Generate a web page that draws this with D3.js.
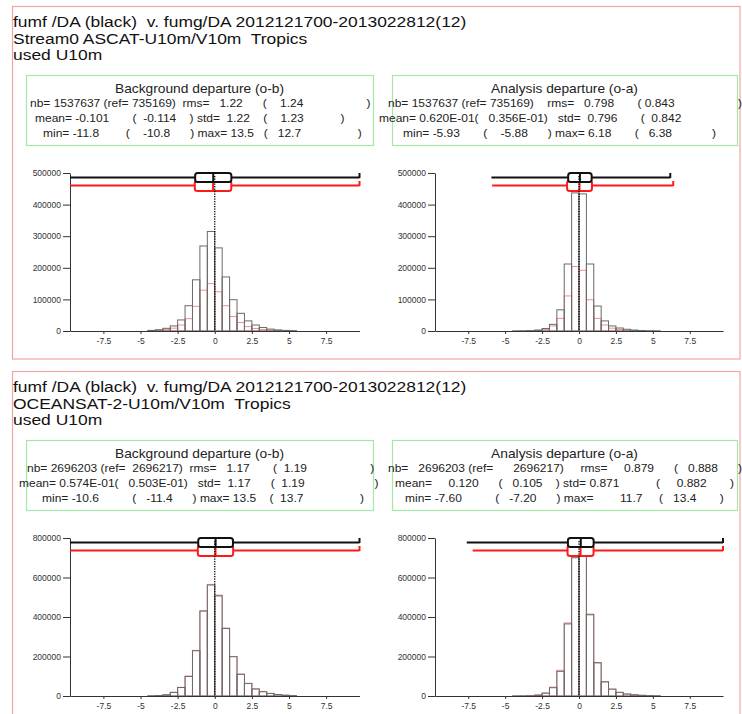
<!DOCTYPE html>
<html>
<head>
<meta charset="utf-8">
<script src="https://cdn.jsdelivr.net/npm/d3@7/dist/d3.min.js"></script>
<style>
  html, body { margin: 0; padding: 0; background: #fff; }
  text { font-family: "Liberation Sans", Arial, Helvetica, sans-serif; }
</style>
</head>
<body>
<script>
// ---------------- DATA ----------------
const titleLine1 = "fumf /DA (black)  v. fumg/DA 2012121700-2013022812(12)";
const panelNames = ["Stream0 ASCAT-U10m/V10m  Tropics", "OCEANSAT-2-U10m/V10m  Tropics"];
const titleLine3 = "used U10m";
const boxTitles = ["Background departure (o-b)", "Analysis departure (o-a)"];

// histogram bins: lower edges, width 0.5
const binEdges = [-4.5, -4, -3.5, -3, -2.5, -2, -1.5, -1, -0.5, 0, 0.5, 1, 1.5, 2, 2.5, 3, 3.5, 4, 4.5, 5];
const binWidth = 0.5;

const ascatBgExp = [2000, 4000, 8500, 16000, 35000, 80000, 162000, 269000, 315000, 263000, 171000, 99000, 56000, 32000, 19000, 11000, 6000, 3500, 2000, 1000];
const ascatBgRef = [1000, 2000, 4500, 9000, 19000, 39000, 78000, 129000, 150000, 124000, 80000, 46000, 27000, 14000, 8000, 4500, 2500, 1200, 600, 300];
const ascatAnExp = [200, 500, 1200, 3000, 8000, 21000, 67000, 212000, 437000, 434000, 212000, 79000, 32000, 16000, 9500, 5500, 3000, 1500, 700, 300];
const ascatAnRef = [100, 300, 800, 2000, 5000, 16000, 40000, 111000, 204000, 192000, 99000, 40000, 19000, 9000, 5000, 2800, 1500, 800, 400, 150];
const oceanBgExp = [1000, 2500, 6000, 18000, 43000, 99000, 229000, 430000, 562000, 510000, 342000, 199000, 110000, 64000, 36000, 22000, 13000, 7500, 4000, 2000];
const oceanBgRef = [1100, 2600, 6500, 19000, 44000, 101000, 231000, 432000, 565000, 505000, 344000, 200000, 111000, 63000, 35000, 21500, 12500, 7200, 3900, 1900];
const oceanAnExp = [300, 700, 1500, 4500, 14000, 42000, 125000, 365000, 700000, 725000, 414000, 169000, 72000, 35000, 18500, 10000, 6000, 3500, 2000, 1000];
const oceanAnRef = [300, 800, 1700, 5000, 15500, 45000, 130000, 370000, 705000, 715000, 410000, 167000, 71000, 34000, 18000, 9800, 5800, 3400, 1900, 950];

// statistics [exp (black), ref (red)]
const ascatBgMean = [-0.101, -0.114], ascatBgStd = [1.22, 1.23], ascatBgMin = [-11.8, -10.8], ascatBgMax = [13.5, 12.7];
const ascatAnMean = [0.0620, 0.0356], ascatAnStd = [0.796, 0.842], ascatAnMin = [-5.93, -5.88], ascatAnMax = [6.18, 6.38];
const oceanBgMean = [0.0574, 0.0503], oceanBgStd = [1.17, 1.19], oceanBgMin = [-10.6, -11.4], oceanBgMax = [13.5, 13.7];
const oceanAnMean = [0.120, 0.105], oceanAnStd = [0.871, 0.882], oceanAnMin = [-7.60, -7.20], oceanAnMax = [11.7, 13.4];

// statistics text rows (numbers between strings = count of blanks)
const ascatBgRows = [
  ["nb=",1,"1537637",1,"(ref=",1,"735169)",2,"rms=",3,"1.22",6,"(",4,"1.24",19,")"],
  ["mean=",1,"-0.101",7,"(",2,"-0.114",4,")",1,"std=",2,"1.22",4,"(",4,"1.23",11,")"],
  ["min=",1,"-11.8",8,"(",4,"-10.8",6,")",1,"max=",1,"13.5",3,"(",3,"12.7",17,")"]
];
const ascatAnRows = [
  ["nb=",1,"1537637",1,"(ref=",1,"735169)",4,"rms=",3,"0.798",7,"(",1,"0.843",19,")"],
  ["mean=",1,"0.620E-01(",3,"0.356E-01)",3,"std=",2,"0.796",7,"(",2,"0.842"],
  ["min=",1,"-5.93",7,"(",4,"-5.88",6,")",1,"max=",1,"6.18",7,"(",3,"6.38",12,")"]
];
const oceanBgRows = [
  ["nb=",1,"2696203",1,"(ref=",2,"2696217)",2,"rms=",3,"1.17",7,"(",2,"1.19",19,")"],
  ["mean=",1,"0.574E-01(",3,"0.503E-01)",3,"std=",2,"1.17",6,"(",2,"1.19",21,")"],
  ["min=",1,"-10.6",10,"(",3,"-11.4",6,")",1,"max=",1,"13.5",4,"(",2,"13.7",17,")"]
];
const oceanAnRows = [
  ["nb=",3,"2696203",1,"(ref=",6,"2696217)",5,"rms=",5,"0.879",6,"(",3,"0.888",6,")"],
  ["mean=",5,"0.120",6,"(",3,"0.105",4,")",1,"std=",1,"0.871",11,"(",5,"0.882",7,")"],
  ["min=",1,"-7.60",10,"(",3,"-7.20",6,")",1,"max=",8,"11.7",5,"(",3,"13.4",7,")"]
];

const xTicks = [-7.5, -5, -2.5, 0, 2.5, 5, 7.5];
const yTicksAscat = [0, 100000, 200000, 300000, 400000, 500000];
const yTicksOcean = [0, 200000, 400000, 600000, 800000];

// ---------------- LAYOUT ----------------
const svg = d3.select("body").append("svg").attr("width", 742).attr("height", 714);

const panels = [
  { off: 0, name: panelNames[0], yMax: 500000, yTicks: yTicksAscat,
    subs: [
      { exp: ascatBgExp, ref: ascatBgRef, mean: ascatBgMean, std: ascatBgStd, min: ascatBgMin, max: ascatBgMax, rows: ascatBgRows, title: boxTitles[0], rowDx: [4, 9, 17] },
      { exp: ascatAnExp, ref: ascatAnRef, mean: ascatAnMean, std: ascatAnStd, min: ascatAnMin, max: ascatAnMax, rows: ascatAnRows, title: boxTitles[1], rowDx: [-4, -13, 11] }
    ] },
  { off: 365, name: panelNames[1], yMax: 800000, yTicks: yTicksOcean,
    subs: [
      { exp: oceanBgExp, ref: oceanBgRef, mean: oceanBgMean, std: oceanBgStd, min: oceanBgMin, max: oceanBgMax, rows: oceanBgRows, title: boxTitles[0], rowDx: [1, -7, 16] },
      { exp: oceanAnExp, ref: oceanAnRef, mean: oceanAnMean, std: oceanAnStd, min: oceanAnMin, max: oceanAnMax, rows: oceanAnRows, title: boxTitles[1], rowDx: [-4, 3, 13] }
    ] }
];

const subGeom = [
  { boxX0: 26, boxX1: 373, plotX0: 70, plotX1: 359.5 },
  { boxX0: 392, boxX1: 737, plotX0: 435, plotX1: 723 }
];

function rowText(parts) {
  return parts.map(p => typeof p === "number" ? " ".repeat(p) : p).join("");
}
// stretched text (the original rendering is wider than tall)
function sText(g, x, y, size, sx, str, anchor) {
  return g.append("text")
    .attr("transform", `translate(${x},${y}) scale(${sx},1)`)
    .attr("font-size", size)
    .attr("text-anchor", anchor || "start")
    .attr("xml:space", "preserve").style("white-space", "pre")
    .text(str);
}

panels.forEach(P => {
  const g = svg.append("g").attr("transform", `translate(0,${P.off})`);
  // pink frame
  g.append("rect").attr("x", 12.5).attr("y", 6.5).attr("width", 727.5)
    .attr("height", P.off === 0 ? 352.5 : 400)
    .attr("fill", "none").attr("stroke", "#f5a3a3").attr("stroke-width", 1.2);
  // titles
  [titleLine1, P.name, titleLine3].forEach((t, i) => {
    sText(g, 13, [27, 43.6, 60.2][i], 14.6, 1.195, t).attr("fill", "#111");
  });

  P.subs.forEach((S, si) => {
    const G = subGeom[si];
    // green stats box
    g.append("rect").attr("x", G.boxX0 + 0.5).attr("y", 75.5)
      .attr("width", G.boxX1 - G.boxX0).attr("height", 70)
      .attr("fill", "none").attr("stroke", "#a6e6a6").attr("stroke-width", 1.2);
    sText(g, (G.boxX0 + G.boxX1) / 2, 93, 13, 1.06, S.title, "middle").attr("fill", "#222");
    S.rows.forEach((r, ri) => {
      sText(g, G.boxX0 + S.rowDx[ri], [106.6, 121.6, 136.6][ri], 11.5, 1.043, rowText(r)).attr("fill", "#222");
    });

    // histogram
    const yBase = 331, yTop = 173;
    const x = d3.scaleLinear().domain([-9.75, 9.75]).range([G.plotX0, G.plotX1]);
    const y = d3.scaleLinear().domain([0, P.yMax]).range([yBase, yTop]);

    const bins = binEdges.map((e, i) => ({ e, exp: S.exp[i], ref: S.ref[i] }));
    g.append("g").selectAll("rect").data(bins).join("rect")
      .attr("x", d => x(d.e)).attr("width", d => x(d.e + binWidth) - x(d.e))
      .attr("y", d => y(d.ref)).attr("height", d => yBase - y(d.ref))
      .attr("fill", "none").attr("stroke", "#f29090").attr("stroke-width", 1);
    g.append("g").selectAll("rect").data(bins).join("rect")
      .attr("x", d => x(d.e)).attr("width", d => x(d.e + binWidth) - x(d.e))
      .attr("y", d => y(d.exp)).attr("height", d => yBase - y(d.exp))
      .attr("fill", "none").attr("stroke", "#6a6a6a").attr("stroke-width", 1);

    // axes
    const ax = g.append("g").attr("transform", `translate(0,${yBase})`)
      .call(d3.axisBottom(x).tickValues(xTicks).tickSize(3).tickSizeOuter(0).tickPadding(4)
        .tickFormat(d => String(d)));
    const ay = g.append("g").attr("transform", `translate(${G.plotX0},0)`)
      .call(d3.axisLeft(y).tickValues(P.yTicks).tickSize(7).tickPadding(2).tickSizeOuter(0)
        .tickFormat(d3.format("d")));
    [ax, ay].forEach(a => {
      a.selectAll("path.domain").attr("stroke", "#333");
      a.selectAll(".tick line").attr("stroke", "#333");
      a.selectAll("text").attr("font-size", 8.5).attr("fill", "#333")
        .attr("font-family", "'Liberation Sans', Arial, sans-serif");
    });

    // box plots: red (ref) then black (exp)
    const clip = v => Math.max(-9.75, Math.min(9.75, v));
    const specs = [
      { k: 1, col: "#ff1a1a", ly: yTop + 12.5, b0: yTop + 7.5, b1: yTop + 18 },
      { k: 0, col: "#111", ly: yTop + 4.5, b0: yTop, b1: yTop + 9 }
    ];
    specs.forEach(s => {
      const lo = clip(S.min[s.k]), hi = clip(S.max[s.k]);
      g.append("line").attr("x1", x(lo)).attr("x2", x(hi)).attr("y1", s.ly).attr("y2", s.ly)
        .attr("stroke", s.col).attr("stroke-width", 2);
      g.append("line").attr("x1", x(hi)).attr("x2", x(hi)).attr("y1", s.ly - 4.5).attr("y2", s.ly + 0.5)
        .attr("stroke", s.col).attr("stroke-width", 2);
      const m = S.mean[s.k], sd = S.std[s.k];
      g.append("rect").attr("x", x(m - sd)).attr("width", x(m + sd) - x(m - sd))
        .attr("y", s.b0).attr("height", s.b1 - s.b0).attr("rx", 2.5)
        .attr("fill", "#fff").attr("stroke", s.col).attr("stroke-width", 2);
      g.append("line").attr("x1", x(m)).attr("x2", x(m)).attr("y1", s.b0).attr("y2", s.b1)
        .attr("stroke", s.col).attr("stroke-width", 2);
    });
    // zero reference dotted line
    g.append("line").attr("x1", x(0)).attr("x2", x(0)).attr("y1", yTop + 3).attr("y2", yBase)
      .attr("stroke", "#000").attr("stroke-width", 1.3).attr("stroke-dasharray", "1.3,1.2");
  });
});
</script>
</body>
</html>
